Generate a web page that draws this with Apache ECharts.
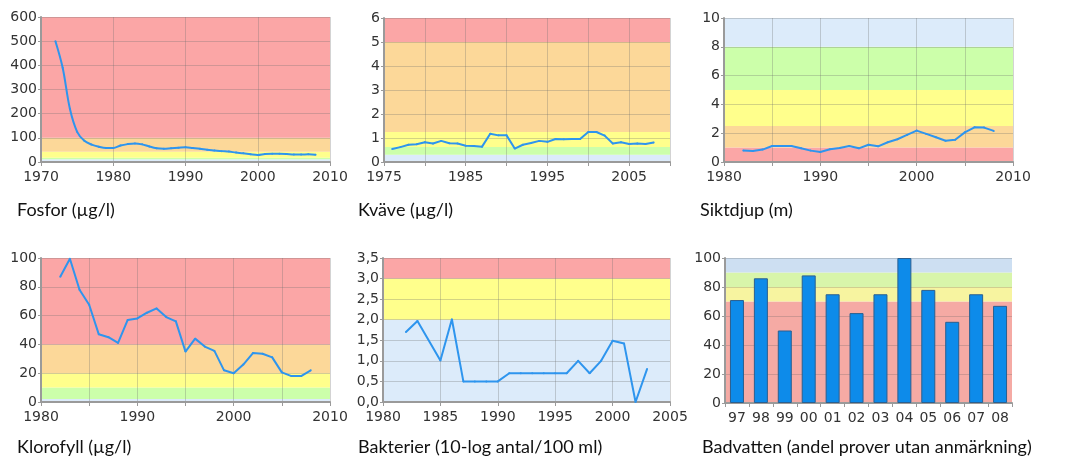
<!DOCTYPE html>
<html><head><meta charset="utf-8">
<script src="https://cdn.jsdelivr.net/npm/echarts@6/dist/echarts.min.js"></script>
<style>html,body{margin:0;padding:0;background:#fff}#c{width:1065px;height:459px}</style>
</head><body><div id="c"></div>
<script>
// ---------- DATA ----------
const fosforYears  = [1972,1973,1974,1975,1976,1977,1978,1979,1980,1981,1982,1983,1984,1985,1986,1987,1988,1989,1990,1991,1992,1993,1994,1995,1996,1997,1998,1999,2000,2001,2002,2003,2004,2005,2006,2007,2008];
const fosforValues = [500,390,220,125,88,72,63,58,58,68,74,77,73,64,57,55,57,59,61,58,55,51,48,45,43,39,36,32,29,33,34,34,33,31,31,32,30];
const fosforLimits = [0,11,18,42,100,600];

const kvaveYears  = [1976,1977,1978,1979,1980,1981,1982,1983,1984,1985,1986,1987,1988,1989,1990,1991,1992,1993,1994,1995,1996,1997,1998,1999,2000,2001,2002,2003,2004,2005,2006,2007,2008];
const kvaveValues = [0.54,0.62,0.72,0.74,0.82,0.77,0.88,0.78,0.77,0.68,0.67,0.64,1.18,1.11,1.11,0.56,0.72,0.79,0.88,0.84,0.96,0.95,0.96,0.96,1.25,1.25,1.1,0.77,0.82,0.75,0.77,0.75,0.81];
const kvaveLimits = [0,0.3,0.625,1.25,5,6];

const siktYears  = [1982,1983,1984,1985,1986,1987,1988,1989,1990,1991,1992,1993,1994,1995,1996,1997,1998,1999,2000,2001,2002,2003,2004,2005,2006,2007,2008];
const siktValues = [0.79,0.77,0.86,1.11,1.11,1.11,0.95,0.79,0.70,0.88,0.97,1.11,0.95,1.2,1.09,1.37,1.58,1.88,2.18,1.95,1.72,1.48,1.55,2.06,2.41,2.39,2.16];
const siktLimits = [0,1,2.5,5,8,10];

const kloroYears  = [1982,1983,1984,1985,1986,1987,1988,1989,1990,1991,1992,1993,1994,1995,1996,1997,1998,1999,2000,2001,2002,2003,2004,2005,2006,2007,2008];
const kloroValues = [87,99.5,78,67.5,47,45,41,57,58,62,65,59,56,35,44,38.5,35.5,22,20,26,34,33.5,31,20.6,18,18,22];
const kloroLimits = [0,2,10,20,40,100];

const bakterYears  = [1982,1983,1985,1986,1987,1988,1989,1990,1991,1992,1993,1994,1995,1996,1997,1998,1999,2000,2001,2002,2003];
const bakterValues = [1.7,1.97,1.01,2.01,0.5,0.5,0.5,0.5,0.7,0.7,0.7,0.7,0.7,0.7,1.0,0.7,1.0,1.49,1.42,0.0,0.8];
const bakterLimits = [0,2,3,3.5];

const badYears  = ['97','98','99','00','01','02','03','04','05','06','07','08'];
const badValues = [71,86,50,88,75,62,75,100,78,56,75,67];
const badLimits = [0,70,80,90,100];

const titles = ['Fosfor (µg/l)','Kväve (µg/l)','Siktdjup (m)','Klorofyll (µg/l)','Bakterier (10-log antal/100 ml)','Badvatten (andel prover utan anmärkning)'];

// ---------- STYLE ----------
const BLUE='#dcebfa', GREEN='#ccffaa', YELLOW='#ffff8c', ORANGE='#fcd899', RED='#fba6a6';
const B_BLUE='#cddff2', B_GREEN='#d8f5aa', B_YELLOW='#f7f4a0', B_RED='#f5aaa4';
const LINE='#2e95ee';
const AXIS_FONT='DejaVu Sans';

const grids = [
  {left:41, top:17, width:289, height:145},
  {left:384, top:18, width:286, height:144},
  {left:724, top:18, width:289, height:144},
  {left:41, top:258, width:289, height:144},
  {left:383, top:258, width:287, height:144},
  {left:725, top:258, width:287, height:145}
];
const titlePos = [[17,201],[358,201],[700,201],[17,438],[358,438],[702,438]];

function bandData(limits, colors){
  const out=[];
  for(let k=0;k<limits.length-1;k++){
    out.push([{yAxis:limits[k], itemStyle:{color:colors[k], opacity:1}},{yAxis:limits[k+1]}]);
  }
  return out;
}
const gridLine = {show:true, lineStyle:{color:'rgba(110,110,110,0.3)', width:1}};
function xVal(i,min,max,interval,labelStep){
  return {gridIndex:i, type:'value', min, max, interval, z:3,
    axisLine:{show:true, onZero:false, lineStyle:{color:'#9a9a9a', width:2}},
    axisTick:{show:true, length:4, lineStyle:{color:'#9a9a9a'}},
    axisLabel:{fontFamily:AXIS_FONT, fontSize:14, color:'#333', margin:8,
      formatter:v=>((v-min)%labelStep===0? String(v):'')},
    splitLine:gridLine};
}
function yVal(i,max,interval,fmt){
  return {gridIndex:i, type:'value', min:0, max, interval, z:3,
    axisLine:{show:true, onZero:false, lineStyle:{color:'#9a9a9a', width:2}},
    axisTick:{show:true, length:3, lineStyle:{color:'#9a9a9a'}},
    axisLabel:{fontFamily:AXIS_FONT, fontSize:14, color:'#333', margin:4, formatter:fmt||(v=>String(v))},
    splitLine:gridLine};
}
function pairs(xs,ys){return xs.map((x,k)=>[x,ys[k]]);}
function bandHolder(i,data,limits,colors){
  return {type:'line', xAxisIndex:i, yAxisIndex:i, data, z:1, silent:true, showSymbol:false,
    lineStyle:{opacity:0}, itemStyle:{opacity:0},
    markArea:{silent:true, label:{show:false}, data:bandData(limits,colors)}};
}
function lineSeries(i,data,smooth){
  return {type:'line', xAxisIndex:i, yAxisIndex:i, data, z:4, smooth:smooth||false,
    symbol:'circle', symbolSize:2, showSymbol:true,
    lineStyle:{color:LINE, width:2}, itemStyle:{color:LINE}};
}

const pFos = pairs(fosforYears,fosforValues);
const pKva = pairs(kvaveYears,kvaveValues);
const pSik = pairs(siktYears,siktValues);
const pKlo = pairs(kloroYears,kloroValues);
const pBak = pairs(bakterYears,bakterValues);

const option = {
  animation:false,
  title: titles.map((t,k)=>({text:t, left:titlePos[k][0], top:titlePos[k][1], padding:0,
    textStyle:{fontFamily:'Lato', fontSize:18, fontWeight:'normal', color:'#111'}})),
  grid: grids,
  xAxis: [
    xVal(0,1970,2010,10,10),
    xVal(1,1975,2010,5,10),
    xVal(2,1980,2010,5,10),
    xVal(3,1980,2010,5,10),
    xVal(4,1980,2005,5,5),
    {gridIndex:5, type:'category', data:badYears, z:3,
      axisLine:{show:true, lineStyle:{color:'#9a9a9a', width:2}},
      axisTick:{show:true, length:4, lineStyle:{color:'#9a9a9a'}},
      axisLabel:{fontFamily:AXIS_FONT, fontSize:14, color:'#333', margin:8, interval:0},
      splitLine:{show:false}}
  ],
  yAxis: [
    yVal(0,600,100),
    yVal(1,6,1),
    yVal(2,10,2),
    yVal(3,100,20),
    yVal(4,3.5,0.5,v=>v.toFixed(1).replace('.',',')),
    Object.assign(yVal(5,100,20),{splitLine:{show:true,lineStyle:{color:'rgba(90,90,90,0.25)',width:1}}})
  ],
  series: [
    bandHolder(0,pFos,fosforLimits,[BLUE,GREEN,YELLOW,ORANGE,RED]),
    lineSeries(0,pFos,0.35),
    bandHolder(1,pKva,kvaveLimits,[BLUE,GREEN,YELLOW,ORANGE,RED]),
    lineSeries(1,pKva),
    bandHolder(2,pSik,siktLimits,[RED,ORANGE,YELLOW,GREEN,BLUE]),
    lineSeries(2,pSik),
    bandHolder(3,pKlo,kloroLimits,[BLUE,GREEN,YELLOW,ORANGE,RED]),
    lineSeries(3,pKlo),
    bandHolder(4,pBak,bakterLimits,[BLUE,YELLOW,RED]),
    lineSeries(4,pBak),
    bandHolder(5,badValues,badLimits,[B_RED,B_YELLOW,B_GREEN,B_BLUE]),
    {type:'bar', xAxisIndex:5, yAxisIndex:5, data:badValues, z:4, barWidth:14,
      itemStyle:{color:'#0d8bea', borderColor:'#2b5f8f', borderWidth:1}}
  ]
};
const chart = echarts.init(document.getElementById('c'), null, {renderer:'canvas'});
chart.setOption(option);
</script>
</body></html>
